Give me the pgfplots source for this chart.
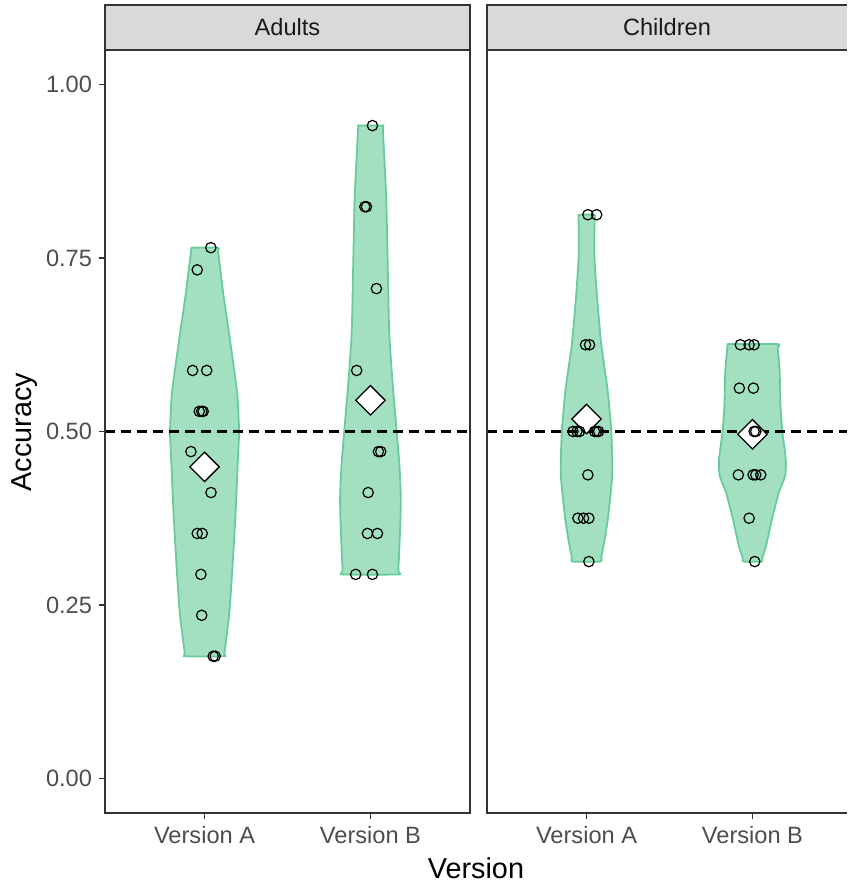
\documentclass[border=0pt]{standalone}
\usepackage{pgfplots}
\pgfplotsset{compat=1.18}
\usepackage{fontspec}
\setmainfont{Liberation Sans}
\definecolor{vgreen}{HTML}{66CC99}
\definecolor{grey20}{HTML}{333333}
\definecolor{grey30}{HTML}{4D4D4D}
\definecolor{grey10}{HTML}{1A1A1A}
\definecolor{grey85}{HTML}{D9D9D9}
\begin{document}
\begin{tikzpicture}
\path[use as bounding box] (0,0) rectangle (423.5pt,444pt);
\pgfplotsset{
  panel/.style={
    anchor=south west,
    scale only axis,
    height=381.5pt,
    ymin=-0.05, ymax=1.05,
    xtick={1,2},
    xticklabels={Version A,Version B},
    axis line style={draw=none},
    tick style={grey20, line width=0.6pt},
    major tick length=3pt,
    tick align=outside,
    xtick pos=left,
    ytick pos=left,
    ticklabel style={font=\fontsize{11.8}{13}\selectfont, text=grey30},
    clip=false,
  },
  violin/.style={fill=vgreen, fill opacity=0.6, draw=vgreen, line width=0.9pt, smooth, tension=0.35, line join=round},
  pts/.style={only marks, mark=o, mark size=2.6pt, mark options={black, line width=0.6pt}},
  means/.style={only marks, mark=square*, mark size=5.2pt, mark options={rotate=45, fill=white, draw=black, line width=0.65pt}},
  hl/.style={black, dash pattern=on 5pt off 3pt, line width=1.1pt},
}
% ---------------- Adults ----------------
\begin{axis}[panel, at={(52.5pt,37.5pt)}, width=182.5pt, xmin=0.4, xmax=2.6,
  ytick={0,0.25,0.5,0.75,1}, yticklabels={0.00,0.25,0.50,0.75,1.00}]
\addplot[violin] coordinates {
 (0.920,0.765) (1.080,0.765) (1.081,0.760) (1.097,0.73) (1.114,0.697) (1.149,0.639) (1.178,0.590) (1.198,0.552)
 (1.208,0.50) (1.200,0.455) (1.187,0.383) (1.170,0.311) (1.149,0.238) (1.120,0.181) (1.117,0.176)
 (0.883,0.176) (0.880,0.181) (0.851,0.238) (0.830,0.311) (0.813,0.383) (0.800,0.455) (0.792,0.50)
 (0.802,0.552) (0.822,0.590) (0.851,0.639) (0.886,0.697) (0.903,0.73) (0.919,0.760) (0.920,0.765)} -- cycle;
\addplot[violin] coordinates {
 (1.926,0.941) (2.074,0.941) (2.075,0.935) (2.095,0.836) (2.104,0.740) (2.113,0.643) (2.133,0.571) (2.158,0.50)
 (2.175,0.45) (2.183,0.402) (2.178,0.354) (2.168,0.300) (2.167,0.294)
 (1.833,0.294) (1.832,0.300) (1.822,0.354) (1.817,0.402) (1.825,0.45) (1.842,0.50) (1.867,0.571)
 (1.887,0.643) (1.896,0.740) (1.905,0.836) (1.925,0.935) (1.926,0.941)} -- cycle;
\addplot[hl] coordinates {(0.4,0.5) (2.6,0.5)};
\addplot[means] coordinates {(1,0.449) (2,0.545)};
\addplot[pts] coordinates {
 (1.038,0.765) (0.956,0.733) (0.928,0.588) (1.013,0.588) (0.968,0.529) (0.983,0.529)
 (0.992,0.529) (0.918,0.471) (1.039,0.412) (0.956,0.353) (0.986,0.353) (0.978,0.294)
 (0.983,0.235) (1.052,0.176) (1.064,0.176)};
\addplot[pts] coordinates {
 (2.012,0.941) (1.966,0.824) (1.976,0.824) (2.036,0.706) (1.917,0.588) (2.048,0.471)
 (2.062,0.471) (1.986,0.412) (1.982,0.353) (2.042,0.353) (1.911,0.294) (2.012,0.294)};
\draw[grey20, line width=0.6pt] (rel axis cs:0,0) rectangle (rel axis cs:1,1);
\draw[grey20, fill=grey85, line width=0.6pt] (rel axis cs:0,1) rectangle ([yshift=22.5pt]rel axis cs:1,1);
\node[text=grey10, font=\fontsize{11.8}{13}\selectfont] at ([yshift=11.25pt]rel axis cs:0.5,1) {Adults};
\end{axis}
% ---------------- Children ----------------
\begin{axis}[panel, at={(243.5pt,37.5pt)}, width=180pt, xmin=0.4, xmax=2.57,
  ytick=\empty]
\addplot[violin] coordinates {
 (0.952,0.8125) (1.048,0.8125) (1.048,0.806) (1.047,0.754) (1.064,0.692) (1.089,0.625) (1.126,0.5615) (1.149,0.50)
 (1.155,0.4375) (1.129,0.375) (1.109,0.344) (1.088,0.318) (1.085,0.3125)
 (0.915,0.3125) (0.912,0.318) (0.891,0.344) (0.871,0.375) (0.845,0.4375) (0.851,0.50) (0.874,0.5615)
 (0.911,0.625) (0.936,0.692) (0.953,0.754) (0.952,0.806) (0.952,0.8125)} -- cycle;
\addplot[violin] coordinates {
 (1.850,0.626) (2.150,0.626) (2.152,0.620) (2.164,0.586) (2.169,0.537) (2.180,0.50) (2.201,0.46) (2.197,0.436)
 (2.159,0.412) (2.117,0.373) (2.082,0.335) (2.059,0.318) (2.055,0.3125)
 (1.945,0.3125) (1.941,0.318) (1.918,0.335) (1.883,0.373) (1.841,0.412) (1.803,0.436) (1.799,0.46)
 (1.820,0.50) (1.831,0.537) (1.836,0.586) (1.848,0.620) (1.850,0.626)} -- cycle;
\addplot[hl] coordinates {(0.4,0.5) (2.57,0.5)};
\addplot[means] coordinates {(1,0.518) (2,0.496)};
\addplot[pts] coordinates {
 (1.008,0.8125) (1.061,0.8125) (0.994,0.625) (1.018,0.625) (0.918,0.5) (0.942,0.5)
 (0.958,0.5) (1.048,0.5) (1.061,0.5) (1.073,0.5) (1.008,0.4375) (0.948,0.375)
 (0.982,0.375) (1.014,0.375) (1.014,0.3125)};
\addplot[pts] coordinates {
 (1.927,0.625) (1.980,0.625) (2.010,0.625) (1.921,0.5625) (2.006,0.5625) (2.010,0.5)
 (2.020,0.5) (1.915,0.4375) (2.004,0.4375) (2.020,0.4375) (2.050,0.4375) (1.980,0.375)
 (2.014,0.3125)};
\draw[grey20, line width=0.6pt] (rel axis cs:1,1) -- (rel axis cs:0,1) -- (rel axis cs:0,0) -- (rel axis cs:1,0);
\fill[grey85] (rel axis cs:0,1) rectangle ([yshift=22.5pt]rel axis cs:1,1);
\draw[grey20, line width=0.6pt] (rel axis cs:1,1) -- (rel axis cs:0,1) -- ([yshift=22.5pt]rel axis cs:0,1) -- ([yshift=22.5pt]rel axis cs:1,1);
\node[text=grey10, font=\fontsize{11.8}{13}\selectfont] at ([yshift=11.25pt]rel axis cs:0.5,1) {Children};
\end{axis}
\node[font=\fontsize{14.4}{16}\selectfont, anchor=base] at (238pt,4.7pt) {Version};
\node[font=\fontsize{14.4}{16}\selectfont, rotate=90] at (12.5pt,228pt) {Accuracy};
\end{tikzpicture}
\end{document}
